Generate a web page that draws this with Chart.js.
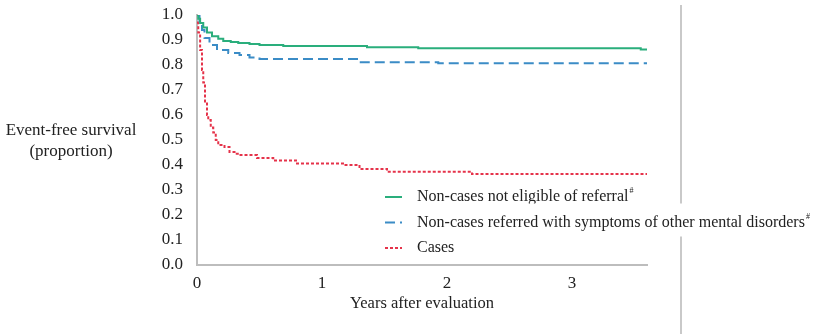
<!DOCTYPE html>
<html>
<head>
<meta charset="utf-8">
<script src="https://cdn.jsdelivr.net/npm/chart.js@4/dist/chart.umd.min.js"></script>
<style>
  html, body { margin: 0; padding: 0; background: #fff; }
  #wrap { width: 829px; height: 334px; }
</style>
</head>
<body>
<div id="wrap"><canvas id="km" width="829" height="334"></canvas></div>
<script>
// Kaplan-Meier curves (time in years, survival proportion)
const notEligibleT = [0, 0.01, 0.025, 0.05, 0.08, 0.12, 0.17, 0.21, 0.27, 0.33, 0.42, 0.5, 0.69, 1.36, 1.77, 3.55, 3.6];
const notEligibleS = [1.0, 0.985, 0.968, 0.95, 0.93, 0.915, 0.905, 0.896, 0.892, 0.888, 0.884, 0.880, 0.876, 0.871, 0.867, 0.862, 0.862];

const referredT = [0, 0.02, 0.04, 0.06, 0.1, 0.16, 0.25, 0.34, 0.42, 0.5, 1.28, 1.93, 3.6];
const referredS = [1.0, 0.96, 0.94, 0.908, 0.88, 0.86, 0.848, 0.84, 0.83, 0.824, 0.811, 0.807, 0.807];

const casesT = [0, 0.01, 0.025, 0.04, 0.05, 0.064, 0.08, 0.09, 0.11, 0.13, 0.15, 0.17, 0.22, 0.26, 0.3, 0.34, 0.48, 0.61, 0.8, 1.18, 1.3, 1.52, 2.2, 3.6];
const casesS = [0.97, 0.93, 0.86, 0.78, 0.73, 0.65, 0.60, 0.58, 0.55, 0.53, 0.50, 0.48, 0.472, 0.452, 0.445, 0.44, 0.428, 0.418, 0.406, 0.40, 0.384, 0.373, 0.364, 0.364];

const seriesNames = ['Non-cases not eligible of referral', 'Non-cases referred with symptoms of other mental disorders', 'Cases'];
const seriesNotes = ['#', '#', ''];
const xTicks = [0, 1, 2, 3];
const yTitleLines = ['Event-free survival', '(proportion)'];
const xTitle = 'Years after evaluation';

const FONT = "'Liberation Serif', 'Times New Roman', serif";

function toPoints(ts, ss) {
    return ts.map((t, i) => ({ x: t, y: ss[i] }));
}

// y-axis title is horizontal in the figure, so draw it ourselves;
// also the thin grey frame line on the right and the custom legend
const extras = {
    id: 'extras',
    beforeDraw(chart) {
        const ctx = chart.ctx;
        ctx.save();
        ctx.strokeStyle = '#c9c9c9';
        ctx.lineWidth = 2;
        ctx.beginPath();
        ctx.moveTo(681, 5);
        ctx.lineTo(681, 334);
        ctx.stroke();
        ctx.restore();
    },
    afterDraw(chart) {
        const ctx = chart.ctx;
        ctx.save();
        ctx.fillStyle = '#222';
        ctx.font = '17px ' + FONT;
        ctx.textAlign = 'center';
        ctx.textBaseline = 'middle';
        ctx.fillText(yTitleLines[0], 71, 131);
        ctx.fillText(yTitleLines[1], 71, 152);

        // legend
        const sx = 385, tx = 417, y0 = 197, gap = 25.5;
        chart.data.datasets.forEach((ds, i) => {
            const y = y0 + i * gap;
            ctx.font = '16px ' + FONT;
            ctx.textAlign = 'left';
            const w = ctx.measureText(ds.label).width;
            ctx.fillStyle = '#fff';
            ctx.fillRect(tx - 2, y - 19, w + 12, 33);
            ctx.strokeStyle = ds.borderColor;
            ctx.lineWidth = ds.borderWidth;
            ctx.setLineDash(ds.borderDash || []);
            ctx.beginPath();
            ctx.moveTo(sx, y);
            ctx.lineTo(sx + 17, y);
            ctx.stroke();
            ctx.setLineDash([]);
            ctx.fillStyle = '#222';
            ctx.fillText(ds.label, tx, y);
            if (seriesNotes[i]) {
                ctx.font = '8px ' + FONT;
                ctx.fillText(seriesNotes[i], tx + w + 1, y - 6);
            }
        });
        ctx.restore();
    }
};

const chart = new Chart(document.getElementById('km').getContext('2d'), {
    type: 'line',
    data: {
        datasets: [
            {
                label: seriesNames[0],
                data: toPoints(notEligibleT, notEligibleS),
                borderColor: '#2aae7c',
                borderWidth: 2,
                stepped: true,
                pointRadius: 0,
                fill: false
            },
            {
                label: seriesNames[1],
                data: toPoints(referredT, referredS),
                borderColor: '#3b8cc6',
                borderWidth: 2,
                borderDash: [10, 5],
                stepped: true,
                pointRadius: 0,
                fill: false
            },
            {
                label: seriesNames[2],
                data: toPoints(casesT, casesS),
                borderColor: '#e5334a',
                borderWidth: 2,
                borderDash: [3, 2],
                stepped: true,
                pointRadius: 0,
                fill: false
            }
        ]
    },
    options: {
        responsive: false,
        animation: false,
        devicePixelRatio: 1,
        layout: { padding: { top: 15, right: 182, bottom: 0, left: 0 } },
        plugins: {
            legend: { display: false },
            tooltip: { enabled: false }
        },
        scales: {
            x: {
                type: 'linear',
                min: 0,
                max: 3.6,
                afterBuildTicks: (scale) => { scale.ticks = xTicks.map(v => ({ value: v })); },
                afterFit: (scale) => { scale.height = 69; },
                ticks: {
                    padding: 8,
                    color: '#222',
                    font: { family: FONT, size: 17 },
                    maxRotation: 0
                },
                grid: { display: false, drawTicks: false },
                border: { display: true, color: '#bdbdbd', width: 2 },
                title: {
                    display: true,
                    text: xTitle,
                    color: '#222',
                    font: { family: FONT, size: 16.5 },
                    padding: { top: 0, bottom: 20 }
                }
            },
            y: {
                min: 0,
                max: 1,
                afterFit: (scale) => {
                    scale.width = 197;
                    scale.paddingTop = 0;
                    scale.paddingBottom = 0;
                },
                ticks: {
                    stepSize: 0.1,
                    padding: 14,
                    color: '#222',
                    font: { family: FONT, size: 17 },
                    callback: v => v.toFixed(1)
                },
                grid: { display: false, drawTicks: false },
                border: { display: true, color: '#bdbdbd', width: 2 }
            }
        }
    },
    plugins: [extras]
});
</script>
</body>
</html>
